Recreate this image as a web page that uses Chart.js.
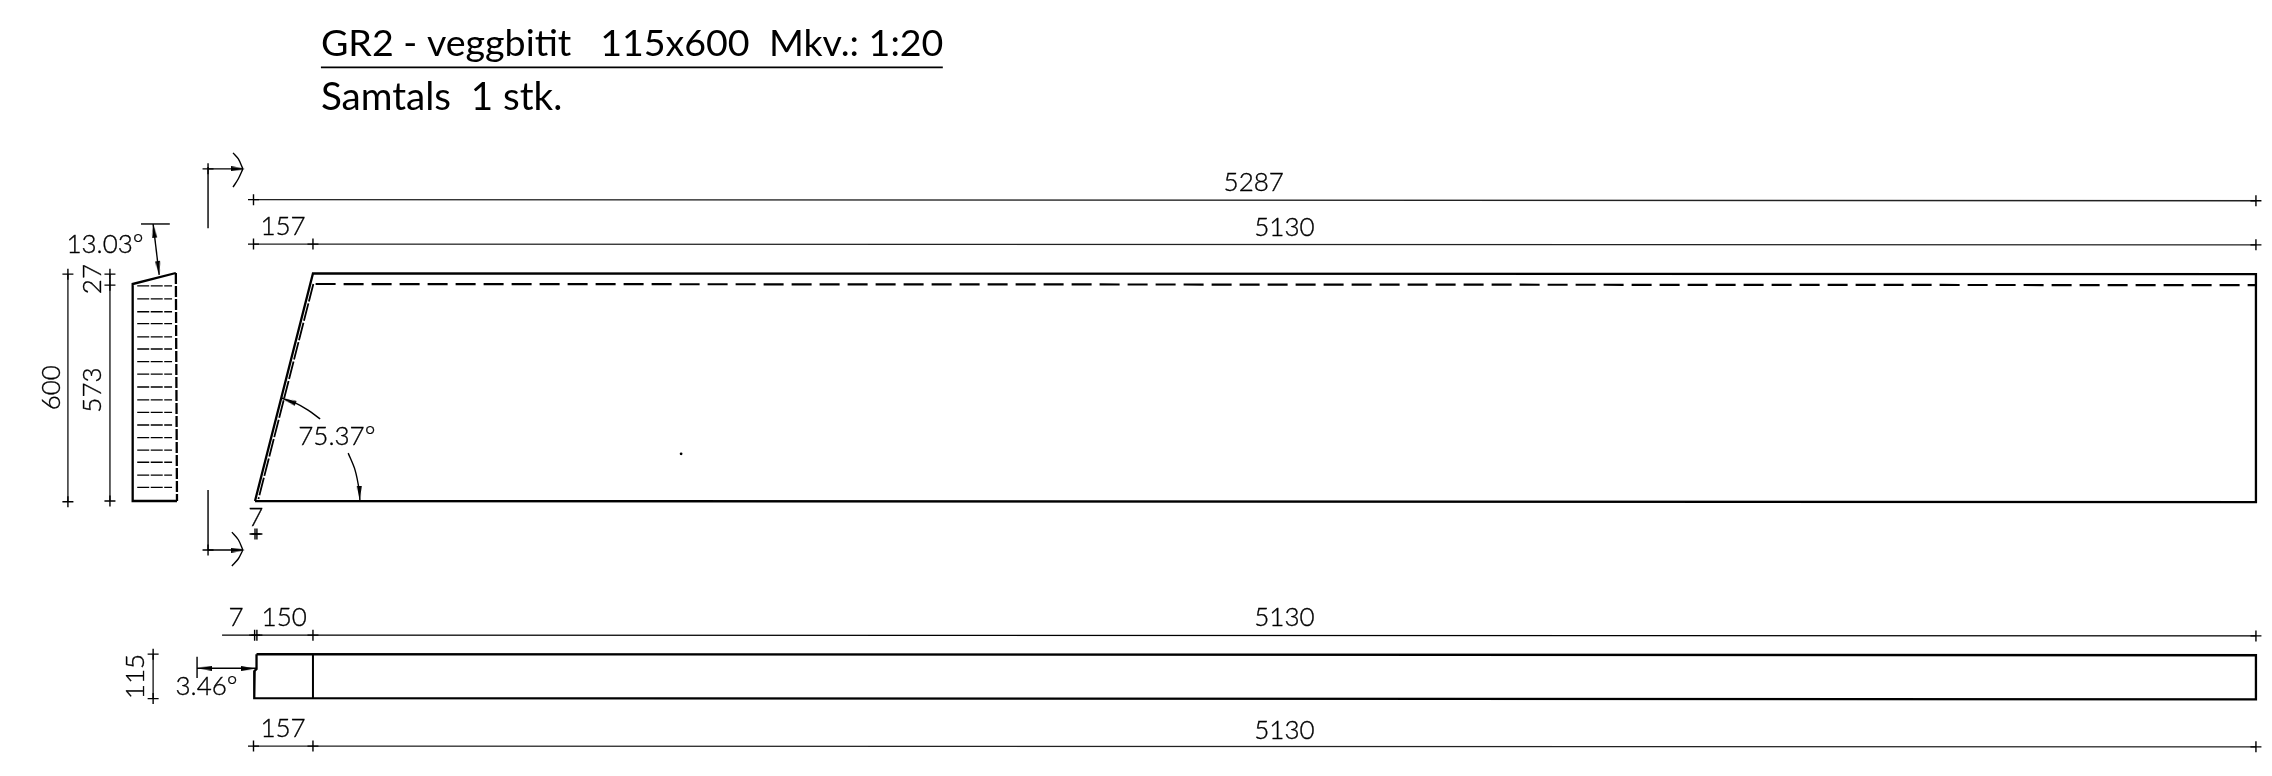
<!DOCTYPE html>
<html><head><meta charset="utf-8">
<style>html,body{margin:0;padding:0;background:#fff}canvas{display:block}</style>
<script src="https://cdn.jsdelivr.net/npm/chart.js@4"></script></head>
<body><canvas id="c" width="2272" height="776"></canvas>
<script>
// Drawing values in millimetres (origin: lower-left end of the 5287 dimension)
const elevationX=[4,157,5287,5287,4];
const elevationY=[0,599,597,-3,0];
const ribbonX=[164,5287];
const ribbonY=[571,568];
const ribbonSlantX=[158,13];
const ribbonSlantY=[571,5];
const dimTotalX=[0,5287];
const dimTotalY=[793,790];
const dimTopX=[0,157,5287];
const dimTopY=[676,676,674];
const sectionX=[-205,-319,-319,-202];
const sectionY=[600,571,0,0];
const sectionRightX=[-205,-202];
const sectionRightY=[600,0];
const hatchLevels=[566,532,498,467,432,400,367,334,300,266,233,200,167,134,102,68,36];
const hatchX=[-307,-215];
const dim600X=[-490,-490];
const dim600Y=[597,-2];
const dim573X=[-379,-379,-379];
const dim573Y=[597,568,0];
const angleBarX=[-297,-221];
const angleBarY=[729,729];
const angleArrowX=[-265,-249];
const angleArrowY=[729,595];
const cutUpperX=[-120,-120];
const cutUpperY=[879,718];
const cutUpperArmX=[-120,-28];
const cutUpperArmY=[874,874];
const cutUpperWingAX=[-54,-40,-28];
const cutUpperWingAY=[916,900,874];
const cutUpperWingBX=[-28,-40,-54];
const cutUpperWingBY=[874,848,826];
const cutLowerX=[-120,-120];
const cutLowerY=[29,-129];
const cutLowerArmX=[-120,-28];
const cutLowerArmY=[-129,-129];
const cutLowerWingAX=[-57,-40,-28];
const cutLowerWingAY=[-82,-102,-129];
const cutLowerWingBX=[-28,-40,-57];
const cutLowerWingBY=[-129,-152,-171];
const arcUpperX=[73,110,144,176];
const arcUpperY=[271,258,239,216];
const arcLowerX=[250,268,279,281];
const arcLowerY=[126,82,29,0];
const sevenX=[4,9];
const sevenY=[-87,-87];
const planX=[8,8,3,2,5287,5287,8];
const planY=[-403,-442,-447,-519,-522,-406,-403];
const planDividerX=[157,157];
const planDividerY=[-403,-519];
const dimPlanUpperX=[-83,3,9,157,5287];
const dimPlanUpperY=[-353,-353,-353,-353,-355];
const dimPlanLowerX=[0,157,5287];
const dimPlanLowerY=[-645,-645,-647];
const dim115X=[-265,-265];
const dim115Y=[-403,-520];
const angleSmallBarX=[-149,-149];
const angleSmallBarY=[-410,-466];
const angleSmallArrowX=[-149,7];
const angleSmallArrowY=[-440,-440];
const underlineX=[178,1820];
const underlineY=[1141,1141];
const speckX=[1129];
const speckY=[124];
const headX=[-263,-251,94,280,-128,-14,-41,-41];
const headY=[711,613,263,21,-440,-441,874,-129];
const headAngle=[-97,83,200,88,180,0,0,0];

const dimTexts=["5287","157","5130","13.03°","75.37°","7","7","150","5130","3.46°","157","5130"];
const dimTextX=[2641,78,2722,-392,220,6,-46,81,2722,-124,78,2722];
const dimTextY=[838,721,720,676,169,-44,-308,-308,-308,-489,-600,-603];
const sideTexts=["600","27","573","115"];
const sideTextX=[-532,-424,-424,-311];
const sideTextY=[298,584,292,-462];
const titleText="GR2 - veggbitit   115x600  Mkv.: 1:20";
const subtitleText="Samtals  1 stk.";
const titleX=178;
const titleY=1172;
const subtitleY=1030;

const head=document.createElement('canvas');
head.width=14;head.height=5;
(function(){const g=head.getContext('2d');g.fillStyle='#000';g.beginPath();g.moveTo(0,0);g.lineTo(14,2.5);g.lineTo(0,5);g.closePath();g.fill();})();

function pts(xs,ys){return xs.map((x,i)=>({x:x,y:ys[i]}));}
function line(xs,ys,o){return Object.assign({data:pts(xs,ys),showLine:true,borderColor:'#000',backgroundColor:'#000',borderWidth:1.4,pointRadius:0,tension:0},o||{});}
function dim(xs,ys,o){return line(xs,ys,Object.assign({pointRadius:5.5,pointStyle:'cross',pointBorderColor:'#000',pointBorderWidth:1.4,borderColor:'#222'},o||{}));}
const heavy={borderWidth:2.3};

const datasets=[
 line(elevationX,elevationY,heavy),
 line(ribbonX,ribbonY,{borderWidth:2.2,borderDash:[20,8]}),
 line(ribbonSlantX,ribbonSlantY,{borderWidth:1.8,borderDash:[18,2]}),
 dim(dimTotalX,dimTotalY),
 dim(dimTopX,dimTopY),
 line(sectionX,sectionY,heavy),
 line(sectionRightX,sectionRightY,{borderWidth:2.3,borderDash:[11,2]}),
 ...hatchLevels.map(v=>line(hatchX,[v,v],{borderWidth:1.3,borderDash:[12,1.5]})),
 dim(dim600X,dim600Y),
 dim(dim573X,dim573Y),
 line(angleBarX,angleBarY),
 line(angleArrowX,angleArrowY),
 line(cutUpperX,cutUpperY),
 dim(cutUpperArmX.slice(0,1),cutUpperArmY.slice(0,1)),
 line(cutUpperArmX,cutUpperArmY),
 line(cutUpperWingAX,cutUpperWingAY,{tension:0.3}),
 line(cutUpperWingBX,cutUpperWingBY,{tension:0.3}),
 line(cutLowerX,cutLowerY),
 dim(cutLowerArmX.slice(0,1),cutLowerArmY.slice(0,1)),
 line(cutLowerArmX,cutLowerArmY),
 line(cutLowerWingAX,cutLowerWingAY,{tension:0.3}),
 line(cutLowerWingBX,cutLowerWingBY,{tension:0.3}),
 line(arcUpperX,arcUpperY,{tension:0.3}),
 line(arcLowerX,arcLowerY,{tension:0.3}),
 dim(sevenX,sevenY),
 line(planX,planY,heavy),
 line(planDividerX,planDividerY,{borderWidth:2}),
 line(dimPlanUpperX,dimPlanUpperY),
 dim(dimPlanUpperX.slice(1),dimPlanUpperY.slice(1),{showLine:false}),
 dim(dimPlanLowerX,dimPlanLowerY),
 dim(dim115X,dim115Y),
 line(angleSmallBarX,angleSmallBarY),
 line(angleSmallArrowX,angleSmallArrowY),
 line(underlineX,underlineY,{borderWidth:1.8}),
 line(speckX,speckY,{pointRadius:0.7,pointBackgroundColor:'#777',showLine:false}),
 {data:pts(headX,headY),showLine:false,pointStyle:head,pointRotation:headAngle,pointRadius:7}
];

const drawingText={id:'drawingText',afterDatasetsDraw(chart){
 const c=chart.ctx,sx=chart.scales.x,sy=chart.scales.y;
 c.save();c.fillStyle='#000';c.strokeStyle='#000';c.lineWidth=0.35;
 c.font='300 26px Lato';c.textAlign='center';c.textBaseline='middle';
 dimTexts.forEach((t,i)=>{const x=sx.getPixelForValue(dimTextX[i]),y=sy.getPixelForValue(dimTextY[i]);c.fillText(t,x,y);c.strokeText(t,x,y);});
 sideTexts.forEach((t,i)=>{c.save();c.translate(sx.getPixelForValue(sideTextX[i]),sy.getPixelForValue(sideTextY[i]));c.rotate(-Math.PI/2);c.fillText(t,0,0);c.strokeText(t,0,0);c.restore();});
 c.textAlign='left';c.textBaseline='alphabetic';
 c.font='400 37.6px Lato';
 c.fillText(titleText,sx.getPixelForValue(titleX),sy.getPixelForValue(titleY));
 c.font='400 38.6px Lato';
 c.fillText(subtitleText,sx.getPixelForValue(titleX),sy.getPixelForValue(subtitleY));
 c.restore();
}};

new Chart(document.getElementById('c'),{type:'scatter',data:{datasets},plugins:[drawingText],options:{
 responsive:false,animation:false,devicePixelRatio:1,
 layout:{padding:0,autoPadding:false},
 plugins:{legend:{display:false},tooltip:{enabled:false},title:{display:false}},
 scales:{
  x:{type:'linear',display:false,min:-669.3,max:5329.4},
  y:{type:'linear',display:false,min:-723.7,max:1318.4}
 }
}});
</script></body></html>
